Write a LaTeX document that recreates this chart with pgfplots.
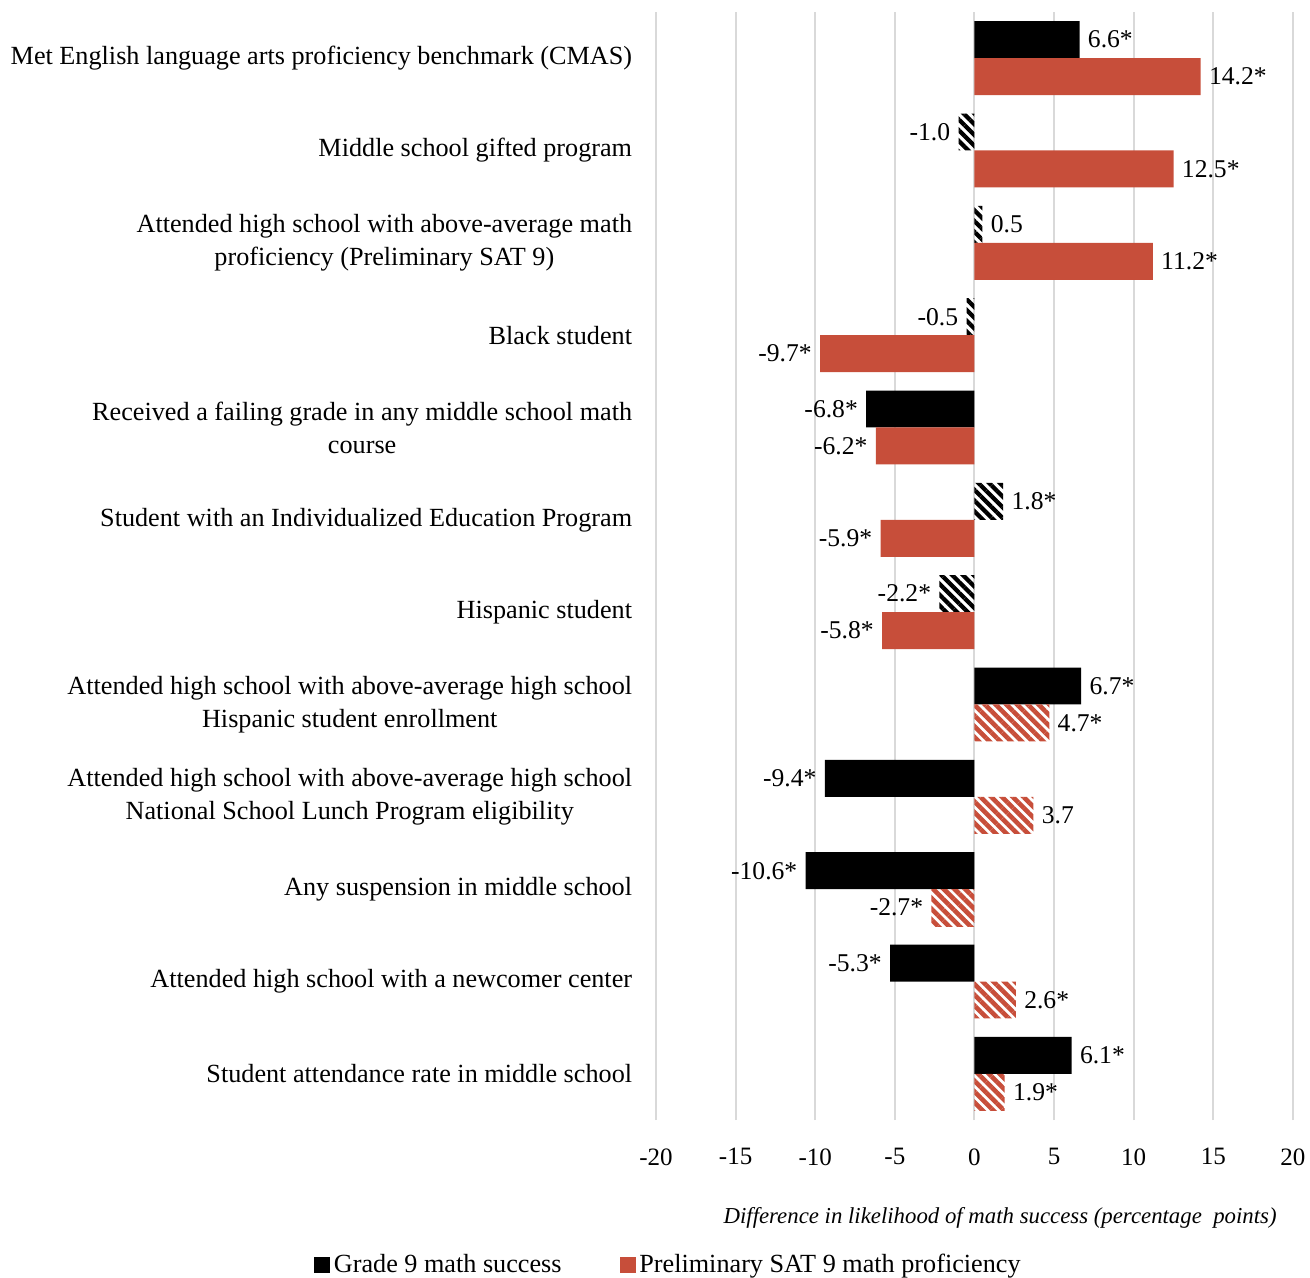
\documentclass[border=0pt]{standalone}
\usepackage{fontspec}
\setmainfont{Liberation Serif}
\usepackage{pgfplots}
\pgfplotsset{compat=1.18}
\usetikzlibrary{patterns.meta}
\definecolor{myred}{HTML}{C74E3A}
\definecolor{gridgray}{HTML}{D9D9D9}
\begin{document}
\fontsize{12.8bp}{15bp}\selectfont
\begin{tikzpicture}
\path[use as bounding box] (-328bp,-79bp) rectangle (327bp,560bp);
\begin{axis}[
  at={(0,0)}, anchor=south west,
  scale only axis, width=318.5bp, height=554bp,
  xbar, clip=false,
  xmin=-20, xmax=20, ymin=-0.5, ymax=11.5,
  xtick={-20,-15,...,20}, xticklabels={-20,-15,-10,-5,0,5,10,15,20},
  ytick={0,...,11},
  yticklabels={
    {Student attendance rate in middle school},
    {Attended high school with a newcomer center},
    {Any suspension in middle school},
    {Attended high school with above-average high school\\National School Lunch Program eligibility},
    {Attended high school with above-average high school\\Hispanic student enrollment},
    {Hispanic student},
    {Student with an Individualized Education Program},
    {Received a failing grade in any middle school math\\course},
    {Black student},
    {Attended high school with above-average math\\proficiency (Preliminary SAT 9)},
    {Middle school gifted program},
    {Met English language arts proficiency benchmark (CMAS)}},
  xmajorgrids, major grid style={gridgray, line width=1bp},
  axis line style={draw=none}, tick style={draw=none},
  xticklabel style={inner sep=0pt, yshift=-14bp, font=\fontsize{12.5bp}{15bp}\selectfont},
  yticklabel style={align=center, inner sep=0pt, xshift=-7.5bp,
    font=\fontsize{13.1bp}{16.5bp}\selectfont},
  bar width=0.4,
  point meta=explicit symbolic,
  legend style={at={(rel axis cs:0.021,0)}, anchor=center, yshift=-72.5bp,
    draw=none, fill=none, legend columns=2, inner sep=0pt,
    font=\fontsize{13.1bp}{15bp}\selectfont},
]
\addlegendimage{legend image code/.code={\fill[black] (0bp,-3.75bp) rectangle (7.5bp,3.75bp);}}
\addlegendentry{Grade 9 math success\rule{27bp}{0pt}}
\addlegendimage{legend image code/.code={\fill[myred] (0bp,-3.75bp) rectangle (7.5bp,3.75bp);}}
\addlegendentry{Preliminary SAT 9 math proficiency}

% Grade 9 - solid
\addplot[xbar, forget plot, bar shift=0.2, fill=black, draw=none, nodes near coords,
  nodes near coords style={anchor=west, xshift=4bp, inner sep=0pt, text=black}]
  coordinates {(6.6,11) [6.6*] (6.7,4) [6.7*] (6.1,0) [6.1*]};
\addplot[xbar, forget plot, bar shift=0.2, fill=black, draw=none, nodes near coords,
  nodes near coords style={anchor=east, xshift=-4bp, inner sep=0pt, text=black}]
  coordinates {(-6.8,7) [-6.8*] (-9.4,3) [-9.4*] (-10.6,2) [-10.6*] (-5.3,1) [-5.3*]};
% Grade 9 - hatched
\addplot[xbar, forget plot, bar shift=0.2, draw=none,
  pattern={Lines[angle=-45,distance=3.8bp,line width=2.1bp]}, pattern color=black,
  nodes near coords,
  nodes near coords style={anchor=west, xshift=4bp, inner sep=0pt, text=black}]
  coordinates {(0.5,9) [0.5] (1.8,6) [1.8*]};
\addplot[xbar, forget plot, bar shift=0.2, draw=none,
  pattern={Lines[angle=-45,distance=3.8bp,line width=2.1bp]}, pattern color=black,
  nodes near coords,
  nodes near coords style={anchor=east, xshift=-4bp, inner sep=0pt, text=black}]
  coordinates {(-1.0,10) [-1.0] (-0.5,8) [-0.5] (-2.2,5) [-2.2*]};
% PSAT - solid
\addplot[xbar, forget plot, bar shift=-0.2, fill=myred, draw=none, nodes near coords,
  nodes near coords style={anchor=west, xshift=4bp, inner sep=0pt, text=black}]
  coordinates {(14.2,11) [14.2*] (12.5,10) [12.5*] (11.2,9) [11.2*]};
\addplot[xbar, forget plot, bar shift=-0.2, fill=myred, draw=none, nodes near coords,
  nodes near coords style={anchor=east, xshift=-4bp, inner sep=0pt, text=black}]
  coordinates {(-9.7,8) [-9.7*] (-6.2,7) [-6.2*] (-5.9,6) [-5.9*] (-5.8,5) [-5.8*]};
% PSAT - hatched
\addplot[xbar, forget plot, bar shift=-0.2, draw=none,
  pattern={Lines[angle=-45,distance=3.8bp,line width=2.3bp]}, pattern color=myred,
  nodes near coords,
  nodes near coords style={anchor=west, xshift=4bp, inner sep=0pt, text=black}]
  coordinates {(4.7,4) [4.7*] (3.7,3) [3.7] (2.6,1) [2.6*] (1.9,0) [1.9*]};
\addplot[xbar, forget plot, bar shift=-0.2, draw=none,
  pattern={Lines[angle=-45,distance=3.8bp,line width=2.3bp]}, pattern color=myred,
  nodes near coords,
  nodes near coords style={anchor=east, xshift=-4bp, inner sep=0pt, text=black}]
  coordinates {(-2.7,2) [-2.7*]};

\node[anchor=east, inner sep=0pt, font=\itshape\fontsize{11.4bp}{13bp}\selectfont]
  at (rel axis cs:1,0) [xshift=-8bp, yshift=-49bp]
  {Difference in likelihood of math success (percentage\ \ points)};
\end{axis}
\end{tikzpicture}
\end{document}
